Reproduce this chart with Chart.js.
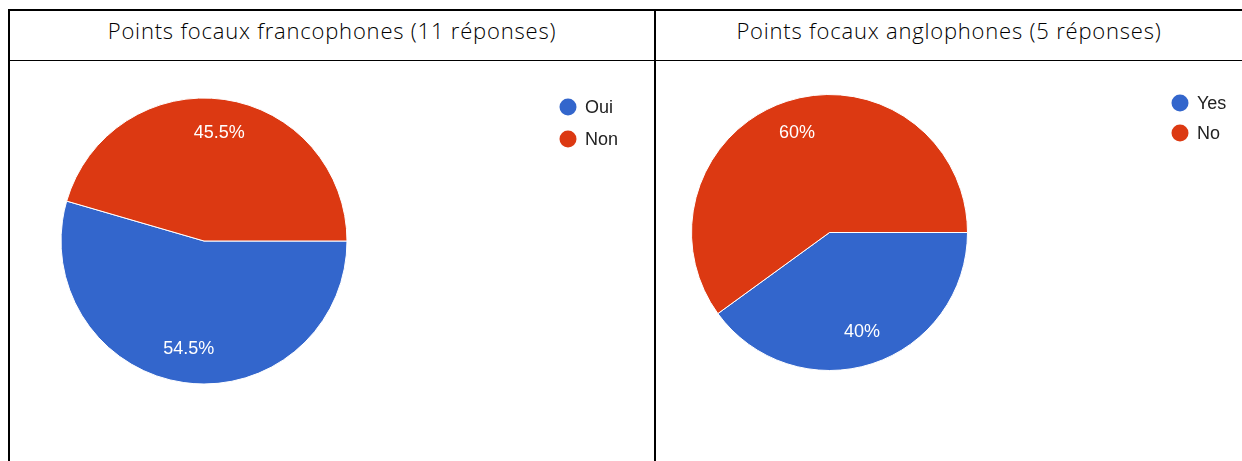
<!DOCTYPE html>
<html>
<head>
<meta charset="utf-8">
<script src="https://cdn.jsdelivr.net/npm/chart.js@4"></script>
<style>
  body { margin: 0; background: #fff; width: 1242px; height: 461px; overflow: hidden; position: relative; }
  .line { position: absolute; background: #000; }
  .title { position: absolute; top: 10px; height: 50px; line-height: 40px; text-align: center;
           font-family: "Open Sans", sans-serif; font-weight: 300; font-size: 22px; letter-spacing: 0.8px; color: #000; }
  .cell { position: absolute; top: 62px; height: 399px; }
</style>
</head>
<body>
<div class="line" style="left:8px; top:9px; width:1234px; height:2px;"></div>
<div class="line" style="left:8px; top:60px; width:1234px; height:1px;"></div>
<div class="line" style="left:8px; top:9px; width:2px; height:452px;"></div>
<div class="line" style="left:654px; top:9px; width:2px; height:452px;"></div>

<div class="title" id="title1" style="left:10px; width:644px;"></div>
<div class="title" id="title2" style="left:656px; width:586px;"></div>

<div class="cell" style="left:10px; width:644px;"><canvas id="chart1"></canvas></div>
<div class="cell" style="left:657px; width:585px;"><canvas id="chart2"></canvas></div>

<script>
// Chart data
const title1 = 'Points focaux francophones (11 réponses)';
const labels1 = ['Oui', 'Non'];
const values1 = [54.5, 45.5];

const title2 = 'Points focaux anglophones (5 réponses)';
const labels2 = ['Yes', 'No'];
const values2 = [40, 60];

const colors = ['#3366cc', '#dc3912'];

document.getElementById('title1').textContent = title1;
document.getElementById('title2').textContent = title2;

// Percent labels inside the slices
const sliceLabels = {
    id: 'sliceLabels',
    afterDatasetsDraw(chart) {
        const ctx = chart.ctx;
        const meta = chart.getDatasetMeta(0);
        const data = chart.data.datasets[0].data;
        const total = data.reduce((a, b) => a + b, 0);
        ctx.save();
        ctx.fillStyle = '#fff';
        ctx.font = '18px "Liberation Sans", Arial, sans-serif';
        ctx.textAlign = 'center';
        ctx.textBaseline = 'middle';
        meta.data.forEach((arc, i) => {
            const mid = (arc.startAngle + arc.endAngle) / 2;
            const r = arc.outerRadius * 0.76;
            const pct = Math.round(data[i] / total * 1000) / 10;
            ctx.fillText(pct + '%', arc.x + Math.cos(mid) * r, arc.y + Math.sin(mid) * r);
        });
        ctx.restore();
    }
};

// Simple legend at the top right of each chart
const dotLegend = {
    id: 'dotLegend',
    afterDraw(chart, args, opts) {
        const ctx = chart.ctx;
        const ds = chart.data.datasets[0];
        ctx.save();
        ctx.font = '18px "Liberation Sans", Arial, sans-serif';
        ctx.textBaseline = 'middle';
        chart.data.labels.forEach((label, i) => {
            const y = opts.y + i * opts.gap;
            ctx.fillStyle = ds.backgroundColor[i];
            ctx.beginPath();
            ctx.arc(opts.x, y, 8.5, 0, Math.PI * 2);
            ctx.fill();
            ctx.fillStyle = '#222';
            ctx.fillText(label, opts.x + 17, y + 1);
        });
        ctx.restore();
    }
};

function createPie(id, labels, values, size, pad, radius, legendPos) {
    const ctx = document.getElementById(id).getContext('2d');
    ctx.canvas.parentNode.style.height = size[1] + 'px';
    return new Chart(ctx, {
        type: 'pie',
        data: {
            labels: labels,
            datasets: [{
                data: values,
                backgroundColor: colors,
                borderColor: '#fff',
                borderWidth: 1,
                radius: radius
            }]
        },
        options: {
            responsive: true,
            maintainAspectRatio: false,
            animation: false,
            rotation: 90,
            layout: { padding: pad },
            plugins: {
                legend: { display: false },
                tooltip: { enabled: false },
                dotLegend: legendPos
            }
        },
        plugins: [sliceLabels, dotLegend]
    });
}

createPie('chart1', labels1, values1, [644, 399],
    { left: 0, top: 0, right: 256, bottom: 41 }, 143, { x: 558, y: 45, gap: 32 });
createPie('chart2', labels2, values2, [585, 399],
    { left: 0, top: 0, right: 240, bottom: 58 }, 138, { x: 523, y: 41, gap: 30 });
</script>
</body>
</html>
